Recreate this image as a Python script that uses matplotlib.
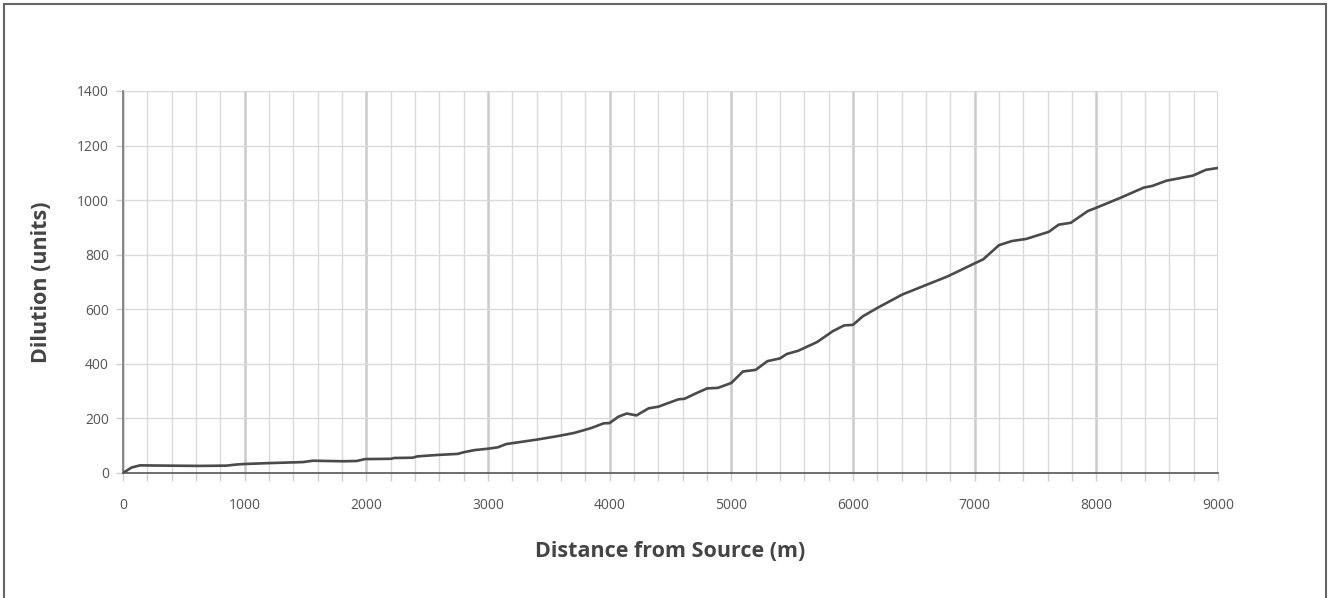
import numpy as np
import matplotlib.pyplot as plt
from matplotlib.patches import Rectangle
from matplotlib.ticker import MultipleLocator


# distance from source (m) and dilution (units)
distance = [0, 70, 140, 350, 630, 850, 930, 1000, 1180, 1480, 1560, 1810, 1920, 1990,
            2200, 2230, 2380, 2420, 2580, 2750, 2800, 2890, 3000, 3080, 3150, 3210,
            3410, 3570, 3710, 3850, 3950, 4000, 4070, 4140, 4220, 4320, 4400, 4565,
            4615, 4705, 4800, 4890, 5000, 5095, 5200, 5297, 5400, 5455, 5550, 5705,
            5835, 5928, 6000, 6080, 6200, 6405, 6595, 6780, 6975, 7070, 7200, 7305,
            7425, 7610, 7690, 7790, 7930, 8005, 8195, 8390, 8460, 8575, 8795, 8900, 9000]
dilution = [0, 20, 28, 27, 26, 27, 31, 33, 36, 40, 45, 43, 44, 51,
            52, 55, 56, 61, 66, 70, 76, 84, 89, 94, 106, 110,
            123, 135, 147, 165, 182, 183, 206, 218, 211, 237, 243, 270,
            272, 291, 310, 312, 330, 372, 378, 410, 420, 436, 448, 480,
            520, 541, 543, 574, 605, 654, 688, 721, 763, 783, 835, 850,
            858, 884, 910, 917, 960, 973, 1008, 1046, 1052, 1071, 1090, 1111, 1118]

x_ticks = [0, 1000, 2000, 3000, 4000, 5000, 6000, 7000, 8000, 9000]
y_ticks = [0, 200, 400, 600, 800, 1000, 1200, 1400]

plt.rcParams['font.family'] = ['Open Sans', 'DejaVu Sans']

fig = plt.figure(figsize=(13.3, 5.98), dpi=100)
ax = fig.add_axes([123 / 1330, 1 - 473 / 598, 1095 / 1330, 382 / 598])

ax.plot(distance, dilution, color='#4a4a4a', lw=1.9, solid_capstyle='round',
        solid_joinstyle='round', zorder=3)

ax.set_xlim(0, 9000)
ax.set_ylim(0, 1400)
ax.set_xticks(x_ticks)
ax.set_yticks(y_ticks)
ax.xaxis.set_minor_locator(MultipleLocator(200))

# grid: light minor lines, slightly heavier every 1000 m
ax.grid(which='minor', axis='x', color='#dadada', lw=1.0, zorder=0)
ax.grid(which='major', axis='x', color='#cacaca', lw=1.8, zorder=0)
ax.grid(which='major', axis='y', color='#dadada', lw=1.0, zorder=0)
ax.set_axisbelow(True)

for side in ['top', 'right']:
    ax.spines[side].set_visible(False)
ax.spines['left'].set_color('#777777')
ax.spines['left'].set_linewidth(1.2)
ax.spines['bottom'].set_color('#555555')
ax.spines['bottom'].set_linewidth(1.2)
ax.spines['bottom'].set_zorder(4)

ax.tick_params(axis='x', which='both', length=6, width=1, color='#d0d0d0', pad=12,
               labelsize=10, labelcolor='#555555')
ax.tick_params(axis='y', which='major', length=5, width=1, color='#d0d0d0', pad=5,
               labelsize=10, labelcolor='#555555')

ax.set_xlabel('Distance from Source (m)', fontsize=15.5, fontweight='bold', color='#444444', labelpad=20)
ax.set_ylabel('Dilution (units)', fontsize=15.5, fontweight='bold', color='#444444', labelpad=18)

# outer frame around the whole chart
fig.patches.append(Rectangle((4 / 1330, -0.02), 1322 / 1330, 1.02 - 4 / 598,
                             transform=fig.transFigure, fill=False, ec='#666666', lw=1.5))

fig.savefig('out.png', dpi=100)
